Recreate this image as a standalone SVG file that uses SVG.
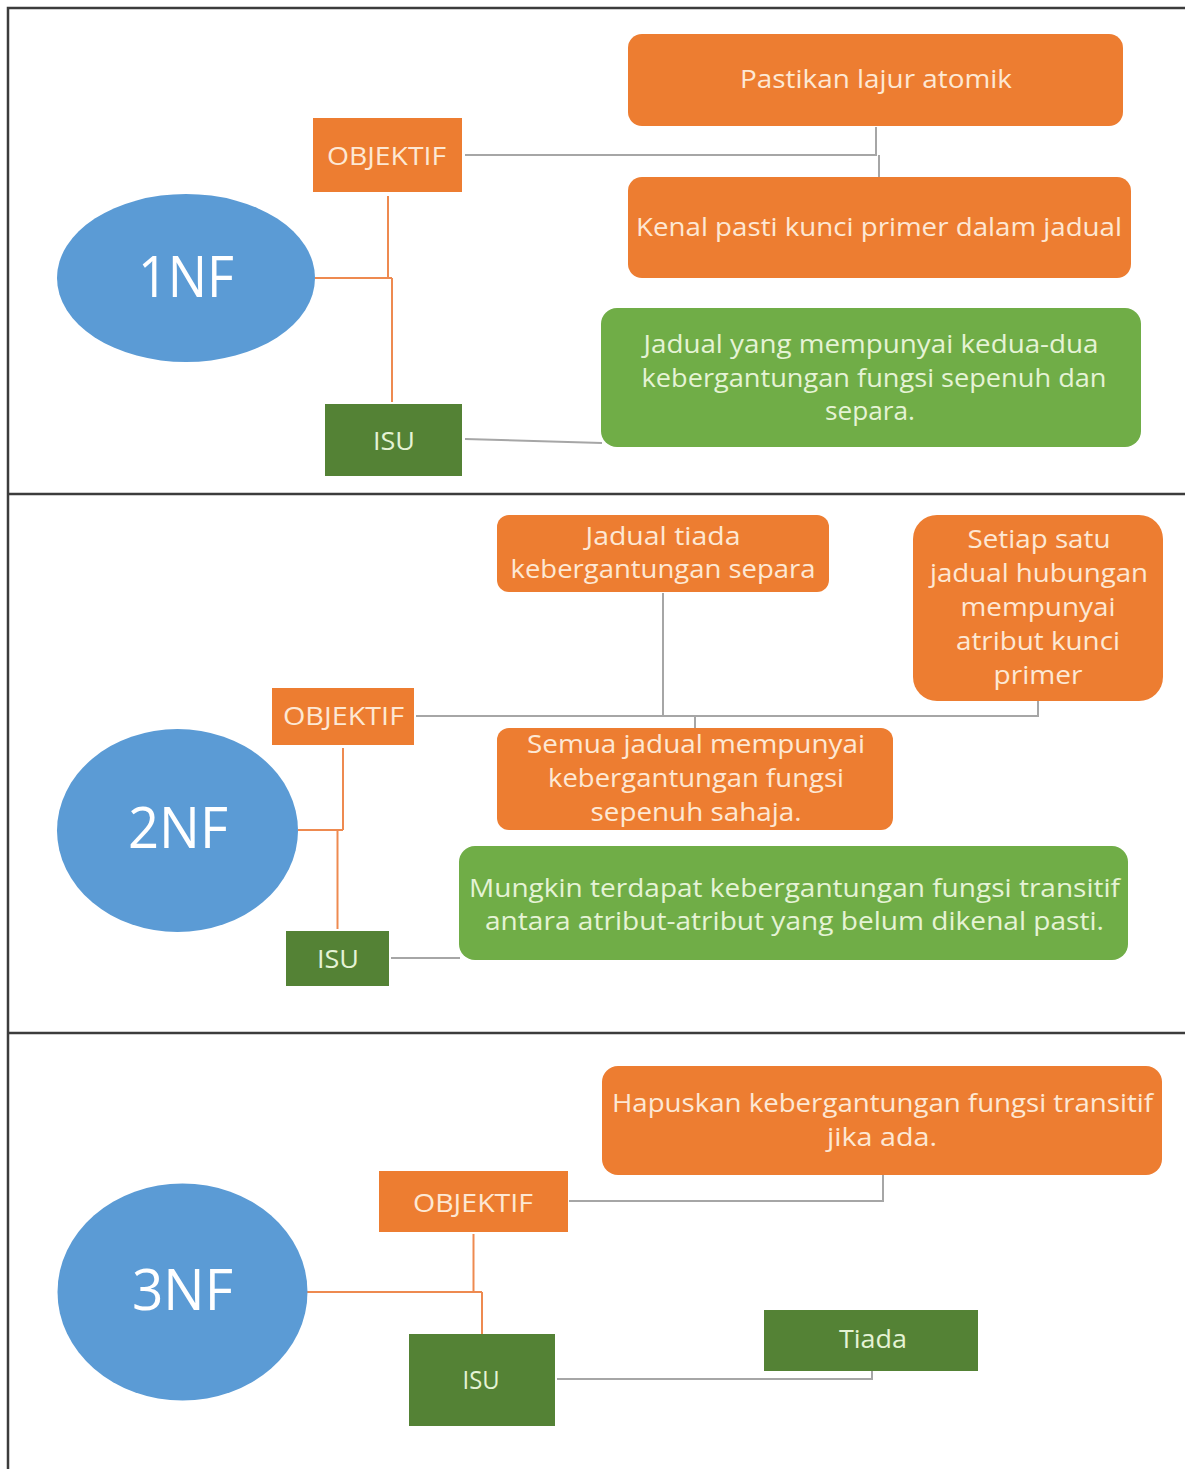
<svg xmlns="http://www.w3.org/2000/svg" width="1185" height="1469" viewBox="0 0 1185 1469">
  <style>
    .frame { fill: none; stroke: #3c3c3c; stroke-width: 2.5; }
    .ell { fill: #5B9BD5; }
    .obj { fill: #ED7D31; }
    .isu { fill: #548235; }
    .goal { fill: #ED7D31; }
    .issue { fill: #70AD47; }
    .dark { fill: #548235; }
    text { font-family: "Open Sans", Lato, "Liberation Sans", sans-serif; text-anchor: middle; }
    .big { font-size: 56px; fill: #FFFFFF; }
    .lbl { font-size: 26px; }
    .ot { fill: #FDE8D4; }
    .gt { fill: #E5F3D5; }
    .c-or { fill: none; stroke: #EE8A50; stroke-width: 2; }
    .c-gr { fill: none; stroke: #A6A6A6; stroke-width: 2; }
  </style>

  <rect x="0" y="0" width="1185" height="1469" fill="#FFFFFF"/>

  <!-- page frame and section dividers -->
  <g id="frame">
    <path class="frame" d="M1185,8 H8 V1469"/>
    <line class="frame" x1="8" y1="494" x2="1185" y2="494"/>
    <line class="frame" x1="8" y1="1033" x2="1185" y2="1033"/>
  </g>

  <!-- connectors -->
  <g id="connectors">
    <!-- 1NF -->
    <path class="c-or" d="M315,278 H392"/>
    <path class="c-or" d="M388,196 V278"/>
    <path class="c-or" d="M392,278 V402"/>
    <path class="c-gr" d="M465,155 H876 V127"/>
    <path class="c-gr" d="M879,155 V177"/>
    <path class="c-gr" d="M465,439 L602,443"/>
    <!-- 2NF -->
    <path class="c-or" d="M298,830 H343"/>
    <path class="c-or" d="M343,748 V830"/>
    <path class="c-or" d="M337.5,830 V929"/>
    <path class="c-gr" d="M416,716 H1038 V701"/>
    <path class="c-gr" d="M663,593 V716"/>
    <path class="c-gr" d="M695,716 V728"/>
    <path class="c-gr" d="M391,958 H460"/>
    <!-- 3NF -->
    <path class="c-or" d="M307,1292 H482"/>
    <path class="c-or" d="M473.5,1234 V1292"/>
    <path class="c-or" d="M482,1292 V1334"/>
    <path class="c-gr" d="M569,1201 H883 V1175"/>
    <path class="c-gr" d="M557,1379 H872 V1371"/>
  </g>

  <!-- 1NF section -->
  <g id="n1nf">
    <ellipse class="ell" cx="186" cy="278" rx="129" ry="84"/>
    <text class="big" x="186" y="297" textLength="96" lengthAdjust="spacingAndGlyphs">1NF</text>
  </g>
  <g id="n1nf-objektif">
    <rect class="obj" x="313" y="118" width="149" height="74"/>
    <text class="lbl ot" x="386.5" y="165" textLength="119" lengthAdjust="spacingAndGlyphs">OBJEKTIF</text>
  </g>
  <g id="n1nf-isu">
    <rect class="isu" x="325" y="404" width="137" height="72"/>
    <text class="lbl gt" x="394" y="450" textLength="42" lengthAdjust="spacingAndGlyphs">ISU</text>
  </g>
  <g id="n1nf-atomik">
    <rect class="goal" x="628" y="34" width="495" height="92" rx="14"/>
    <text class="lbl ot" x="876" y="88" textLength="272" lengthAdjust="spacingAndGlyphs">Pastikan lajur atomik</text>
  </g>
  <g id="n1nf-kunci">
    <rect class="goal" x="628" y="177" width="503" height="101" rx="14"/>
    <text class="lbl ot" x="879" y="236" textLength="486" lengthAdjust="spacingAndGlyphs">Kenal pasti kunci primer dalam jadual</text>
  </g>
  <g id="n1nf-isu-text">
    <rect class="issue" x="601" y="308" width="540" height="139" rx="16"/>
    <text class="lbl gt" x="871" y="353" textLength="455" lengthAdjust="spacingAndGlyphs">Jadual yang mempunyai kedua-dua</text>
    <text class="lbl gt" x="874" y="387" textLength="465" lengthAdjust="spacingAndGlyphs">kebergantungan fungsi sepenuh dan</text>
    <text class="lbl gt" x="870" y="420" textLength="90" lengthAdjust="spacingAndGlyphs">separa.</text>
  </g>

  <!-- 2NF section -->
  <g id="n2nf">
    <ellipse class="ell" cx="177.5" cy="830.5" rx="120.5" ry="101.5"/>
    <text class="big" x="178" y="848" textLength="100" lengthAdjust="spacingAndGlyphs">2NF</text>
  </g>
  <g id="n2nf-objektif">
    <rect class="obj" x="272" y="688" width="142" height="57"/>
    <text class="lbl ot" x="343.5" y="725" textLength="121" lengthAdjust="spacingAndGlyphs">OBJEKTIF</text>
  </g>
  <g id="n2nf-isu">
    <rect class="isu" x="286" y="931" width="103" height="55"/>
    <text class="lbl gt" x="338" y="968" textLength="42" lengthAdjust="spacingAndGlyphs">ISU</text>
  </g>
  <g id="n2nf-separa">
    <rect class="goal" x="497" y="515" width="332" height="77" rx="12"/>
    <text class="lbl ot" x="663" y="545" textLength="155" lengthAdjust="spacingAndGlyphs">Jadual tiada</text>
    <text class="lbl ot" x="663" y="578" textLength="305" lengthAdjust="spacingAndGlyphs">kebergantungan separa</text>
  </g>
  <g id="n2nf-kunci">
    <rect class="goal" x="913" y="515" width="250" height="186" rx="24"/>
    <text class="lbl ot" x="1039" y="548" textLength="143" lengthAdjust="spacingAndGlyphs">Setiap satu</text>
    <text class="lbl ot" x="1039" y="582" textLength="218" lengthAdjust="spacingAndGlyphs">jadual hubungan</text>
    <text class="lbl ot" x="1038" y="616" textLength="155" lengthAdjust="spacingAndGlyphs">mempunyai</text>
    <text class="lbl ot" x="1038" y="650" textLength="164" lengthAdjust="spacingAndGlyphs">atribut kunci</text>
    <text class="lbl ot" x="1038" y="684" textLength="89" lengthAdjust="spacingAndGlyphs">primer</text>
  </g>
  <g id="n2nf-sepenuh">
    <rect class="goal" x="497" y="728" width="396" height="102" rx="12"/>
    <text class="lbl ot" x="696" y="753" textLength="338" lengthAdjust="spacingAndGlyphs">Semua jadual mempunyai</text>
    <text class="lbl ot" x="696" y="787" textLength="296" lengthAdjust="spacingAndGlyphs">kebergantungan fungsi</text>
    <text class="lbl ot" x="696" y="821" textLength="211" lengthAdjust="spacingAndGlyphs">sepenuh sahaja.</text>
  </g>
  <g id="n2nf-isu-text">
    <rect class="issue" x="459" y="846" width="669" height="114" rx="16"/>
    <text class="lbl gt" x="794.5" y="897" textLength="651" lengthAdjust="spacingAndGlyphs">Mungkin terdapat kebergantungan fungsi transitif</text>
    <text class="lbl gt" x="794.5" y="930" textLength="619" lengthAdjust="spacingAndGlyphs">antara atribut-atribut yang belum dikenal pasti.</text>
  </g>

  <!-- 3NF section -->
  <g id="n3nf">
    <ellipse class="ell" cx="182.5" cy="1292" rx="125" ry="108.5"/>
    <text class="big" x="182.5" y="1310" textLength="101" lengthAdjust="spacingAndGlyphs">3NF</text>
  </g>
  <g id="n3nf-objektif">
    <rect class="obj" x="379" y="1171" width="189" height="61"/>
    <text class="lbl ot" x="473" y="1212" textLength="120" lengthAdjust="spacingAndGlyphs">OBJEKTIF</text>
  </g>
  <g id="n3nf-isu">
    <rect class="isu" x="409" y="1334" width="146" height="92"/>
    <text class="lbl gt" x="481" y="1389" textLength="37" lengthAdjust="spacingAndGlyphs">ISU</text>
  </g>
  <g id="n3nf-transitif">
    <rect class="goal" x="602" y="1066" width="560" height="109" rx="16"/>
    <text class="lbl ot" x="882.5" y="1112" textLength="541" lengthAdjust="spacingAndGlyphs">Hapuskan kebergantungan fungsi transitif</text>
    <text class="lbl ot" x="882" y="1146" textLength="110" lengthAdjust="spacingAndGlyphs">jika ada.</text>
  </g>
  <g id="n3nf-tiada">
    <rect class="dark" x="764" y="1310" width="214" height="61"/>
    <text class="lbl gt" x="873" y="1348" textLength="68" lengthAdjust="spacingAndGlyphs">Tiada</text>
  </g>
</svg>
